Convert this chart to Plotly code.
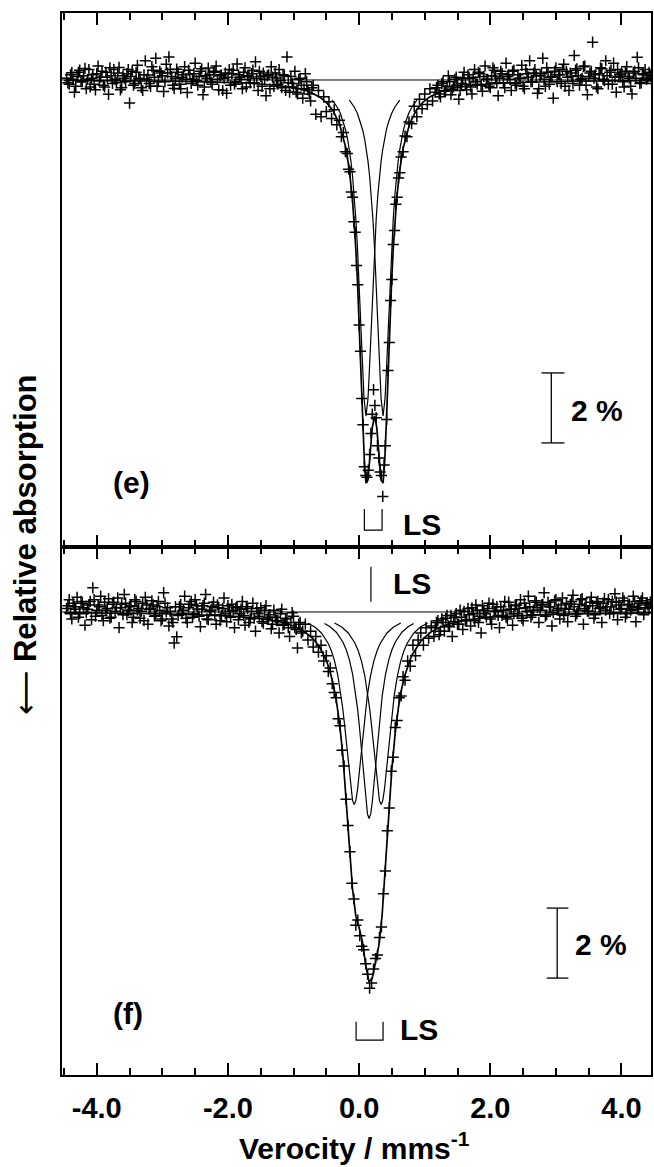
import plotly.graph_objects as go

# ---------------- data ----------------
# velocity axis tick labels
tick_vals = [-4.0, -2.0, 0.0, 2.0, 4.0]
tick_text = ["-4.0", "-2.0", "0.0", "2.0", "4.0"]

# ---- panel (e): measured points (velocity mm/s, relative absorption %) ----
x_e_left = [-4.46,-4.42,-4.38,-4.34,-4.30,-4.26,-4.22,-4.18,-4.14,-4.10,
            -4.06,-4.02,-3.98,-3.94,-3.90,-3.86,-3.82,-3.78,-3.74,-3.70,
            -3.66,-3.62,-3.58,-3.54,-3.50,-3.46,-3.42,-3.38,-3.34,-3.30,
            -3.26,-3.22,-3.18,-3.14,-3.10,-3.06,-3.02,-2.98,-2.94,-2.90,
            -2.86,-2.82,-2.78,-2.74,-2.70,-2.66,-2.62,-2.58,-2.54,-2.50,
            -2.46,-2.42,-2.38,-2.34,-2.30,-2.26,-2.22,-2.18,-2.14,-2.10,
            -2.06,-2.02,-1.98,-1.94,-1.90,-1.86,-1.82,-1.78,-1.74,-1.70,
            -1.66,-1.62,-1.58,-1.54,-1.50,-1.46,-1.42,-1.38,-1.34,-1.30,
            -1.26,-1.22,-1.18,-1.14,-1.10,-1.06,-1.02,-0.98,-0.94,-0.90,
            -0.86,-0.82,-0.78,-0.74,-0.70]
y_e_left = [0.05,-0.12,0.21,-0.35,0.10,0.28,-0.05,0.33,0.02,-0.20,
            0.15,-0.28,0.40,0.08,-0.15,0.22,-0.41,0.12,0.30,-0.08,
            0.36,-0.22,0.05,0.18,-0.66,0.25,-0.10,0.42,0.03,-0.30,
            0.55,0.14,-0.18,0.28,0.62,-0.05,0.20,-0.33,0.45,0.66,
            0.10,-0.24,0.31,-0.12,0.08,0.38,-0.36,0.17,0.02,0.48,
            -0.15,0.25,-0.42,0.12,0.34,-0.06,0.22,0.40,-0.28,0.15,
            0.05,-0.38,0.30,0.18,-0.12,0.46,0.08,-0.25,0.35,0.12,
            -0.08,0.28,0.52,-0.30,0.10,0.20,-0.45,0.15,0.38,-0.18,
            0.06,0.30,-0.22,0.12,0.66,-0.35,-0.10,0.25,-0.40,0.05,
            -0.52,0.18,-0.28,-0.60,-0.15]
x_e_left2 = [-4.44,-4.40,-4.36,-4.32,-4.28,-4.24,-4.20,-4.16,-4.12,-4.08,
             -4.04,-4.00,-3.96,-3.92,-3.88,-3.84,-3.80,-3.76,-3.72,-3.68,
             -3.64,-3.60,-3.56,-3.52,-3.48,-3.44,-3.40,-3.36,-3.32,-3.28,
             -3.24,-3.20,-3.16,-3.12,-3.08,-3.04,-3.00,-2.96,-2.92,-2.88,
             -2.84,-2.80,-2.76,-2.72,-2.68,-2.64,-2.60,-2.56,-2.52,-2.48,
             -2.44,-2.40,-2.36,-2.32,-2.28,-2.24,-2.20,-2.16,-2.12,-2.08,
             -2.04,-2.00,-1.96,-1.92,-1.88,-1.84,-1.80,-1.76,-1.72,-1.68,
             -1.64,-1.60,-1.56,-1.52,-1.48,-1.44,-1.40,-1.36,-1.32,-1.28,
             -1.24,-1.20,-1.16,-1.12,-1.08,-1.04,-1.00,-0.96,-0.92,-0.88,
             -0.84,-0.80,-0.76,-0.72]
y_e_left2 = [-0.08,0.15,0.02,-0.18,0.22,-0.05,0.12,-0.25,0.30,0.05,
             -0.12,0.18,-0.02,0.25,-0.20,0.08,0.35,-0.10,0.02,0.20,
             -0.28,0.12,-0.05,0.30,0.10,-0.15,0.22,0.05,-0.22,0.15,
             0.02,-0.10,0.38,0.08,-0.18,0.25,0.12,-0.05,0.20,0.30,
             -0.15,0.05,0.22,-0.25,0.15,0.02,0.28,-0.10,0.18,-0.02,
             0.10,0.32,-0.20,0.05,0.15,-0.12,0.25,0.02,0.12,-0.30,
             0.20,0.08,-0.15,0.28,-0.05,0.15,0.02,0.22,-0.20,0.10,
             0.18,-0.08,0.05,0.25,-0.18,0.02,0.12,-0.25,0.08,0.20,
             -0.12,-0.02,0.15,-0.30,-0.08,0.10,-0.20,-0.35,0.02,-0.15,
             -0.25,-0.05,-0.40,-0.22]
x_e_mid = [-0.66,-0.62,-0.58,-0.54,-0.50,-0.46,-0.42,-0.38,-0.34,-0.30,
           -0.27,-0.24,-0.21,-0.18,-0.16,-0.14,-0.12,-0.10,-0.08,-0.06,
           -0.04,-0.02,0.00,0.02,0.04,0.06,0.08,0.10,0.12,0.14,
           0.16,0.18,0.20,0.22,0.24,0.26,0.28,0.30,0.32,0.34,
           0.36,0.38,0.40,0.42,0.44,0.46,0.48,0.50,0.52,0.54,
           0.56,0.58,0.60,0.62,0.64,0.67,0.70,0.73,0.76,0.80,
           0.84,0.88,0.92,0.96,1.00,1.04,1.08,1.12]
y_e_mid = [-0.98,-0.30,-1.05,-0.48,-0.90,-0.62,-1.10,-0.85,-1.28,-1.15,
           -1.62,-1.50,-2.05,-2.10,-2.55,-2.62,-3.20,-3.35,-4.05,-4.35,
           -5.30,-5.85,-7.00,-7.75,-9.10,-9.85,-11.05,-11.30,-11.35,-11.15,
           -10.70,-10.10,-9.55,-8.85,-9.30,-9.65,-10.45,-10.80,-11.20,-11.30,
           -11.90,-11.00,-10.45,-9.70,-8.30,-7.50,-6.30,-5.70,-4.70,-4.30,
           -3.55,-3.35,-2.80,-2.65,-2.20,-2.05,-1.60,-1.62,-1.20,-1.25,
           -0.75,-1.05,-0.55,-0.82,-0.40,-0.70,-0.25,-0.60]
x_e_right = [1.16,1.20,1.24,1.28,1.32,1.36,1.40,1.44,1.48,1.52,
             1.56,1.60,1.64,1.68,1.72,1.76,1.80,1.84,1.88,1.92,
             1.96,2.00,2.04,2.08,2.12,2.16,2.20,2.24,2.28,2.32,
             2.36,2.40,2.44,2.48,2.52,2.56,2.60,2.64,2.68,2.72,
             2.76,2.80,2.84,2.88,2.92,2.96,3.00,3.04,3.08,3.12,
             3.16,3.20,3.24,3.28,3.32,3.36,3.40,3.44,3.48,3.52,
             3.56,3.60,3.64,3.68,3.72,3.76,3.80,3.84,3.88,3.92,
             3.96,4.00,4.04,4.08,4.12,4.16,4.20,4.24,4.28,4.32,
             4.36,4.40,4.44]
y_e_right = [-0.35,-0.15,-0.48,-0.05,-0.30,0.12,-0.42,-0.20,0.08,-0.55,
             -0.10,0.22,-0.28,0.05,-0.40,0.30,-0.12,0.18,-0.32,0.40,
             0.02,-0.22,0.35,0.10,-0.45,0.25,-0.08,0.48,0.15,-0.30,
             0.28,-0.15,0.05,0.42,-0.25,0.18,0.55,-0.05,0.30,-0.38,
             0.12,0.62,-0.18,0.22,0.08,-0.52,0.35,0.15,-0.10,0.45,
             0.25,-0.30,0.10,0.70,0.32,-0.15,0.05,0.40,-0.42,0.20,
             1.08,0.15,-0.25,0.35,0.02,0.55,-0.12,0.28,0.48,-0.35,
             0.10,0.20,-0.20,0.38,0.05,-0.40,0.25,0.65,-0.10,0.18,
             0.30,0.05,0.12]
x_e_right2 = [1.18,1.22,1.26,1.30,1.34,1.38,1.42,1.46,1.50,1.54,
              1.58,1.62,1.66,1.70,1.74,1.78,1.82,1.86,1.90,1.94,
              1.98,2.02,2.06,2.10,2.14,2.18,2.22,2.26,2.30,2.34,
              2.38,2.42,2.46,2.50,2.54,2.58,2.62,2.66,2.70,2.74,
              2.78,2.82,2.86,2.90,2.94,2.98,3.02,3.06,3.10,3.14,
              3.18,3.22,3.26,3.30,3.34,3.38,3.42,3.46,3.50,3.54,
              3.58,3.62,3.66,3.70,3.74,3.78,3.82,3.86,3.90,3.94,
              3.98,4.02,4.06,4.10,4.14,4.18,4.22,4.26,4.30,4.34,
              4.38,4.42,4.46]
y_e_right2 = [-0.22,-0.40,-0.10,-0.32,-0.18,-0.05,-0.28,0.02,-0.15,-0.30,
              0.05,-0.12,0.15,-0.20,0.08,-0.05,0.22,-0.15,0.10,0.02,
              -0.18,0.12,0.28,-0.08,0.05,0.18,-0.22,0.10,0.02,0.25,
              -0.10,0.15,0.05,-0.18,0.30,0.08,-0.05,0.20,0.12,-0.25,
              0.18,0.02,0.35,-0.12,0.10,0.25,-0.05,0.15,0.30,-0.18,
              0.08,0.20,-0.10,0.28,0.12,0.02,0.38,-0.15,0.10,0.25,
              0.05,-0.20,0.18,0.32,-0.02,0.12,0.22,-0.12,0.08,0.30,
              0.15,-0.05,0.25,0.10,-0.18,0.20,0.05,0.35,-0.08,0.15,
              0.02,0.22,-0.10]

# ---- panel (e): fitted curves ----
fit_e_x = [-4.5,-2.765,-1.765,-1.265,-0.965,-0.765,-0.6,-0.5,-0.4,-0.3,
           -0.2,-0.15,-0.1,-0.075,-0.05,-0.025,0.0,0.025,0.055,0.08,
           0.105,0.135,0.165,0.2,0.235,0.27,0.305,0.335,0.365,0.39,
           0.415,0.445,0.47,0.495,0.52,0.545,0.57,0.62,0.67,0.77,
           0.87,0.97,1.07,1.235,1.435,1.735,2.235,3.235,4.5]
fit_e_y = [-0.015,-0.036,-0.08,-0.15,-0.23,-0.33,-0.49,-0.64,-0.87,-1.25,
           -1.96,-2.56,-3.45,-4.06,-4.83,-5.76,-6.89,-8.18,-9.80,-10.91,
           -11.52,-11.43,-10.76,-9.94,-9.6,-9.94,-10.76,-11.43,-11.52,-10.91,
           -9.80,-8.18,-6.89,-5.76,-4.83,-4.06,-3.45,-2.56,-1.96,-1.25,
           -0.87,-0.64,-0.49,-0.33,-0.23,-0.15,-0.08,-0.036,-0.018]
ls_e1_x = [-0.41,-0.335,-0.285,-0.235,-0.205,-0.175,-0.15,-0.125,-0.1,-0.075,
           -0.05,-0.025,0.0,0.025,0.055,0.075,0.105,0.135,0.155,0.185,
           0.21,0.235,0.26,0.285,0.31,0.335,0.36,0.385,0.415,0.445,
           0.495,0.545,0.62]
ls_e2_x = [-0.15,-0.075,-0.025,0.025,0.055,0.085,0.11,0.135,0.16,0.185,
           0.21,0.235,0.26,0.285,0.315,0.335,0.365,0.395,0.415,0.445,
           0.47,0.495,0.52,0.545,0.57,0.595,0.62,0.645,0.675,0.705,
           0.755,0.805,0.88]
ls_e_y = [-0.575,-0.77,-0.96,-1.22,-1.435,-1.70,-1.98,-2.32,-2.75,-3.29,
          -3.97,-4.8,-5.81,-6.96,-8.36,-9.11,-9.6,-9.11,-8.36,-6.96,
          -5.81,-4.8,-3.97,-3.29,-2.75,-2.32,-1.98,-1.70,-1.435,-1.22,
          -0.96,-0.77,-0.575]

# ---- panel (f): measured points ----
x_f_left = x_e_left[:91]
y_f_left = [0.10,0.35,-0.20,0.15,0.42,-0.05,0.25,-0.38,0.08,0.30,
            0.69,-0.12,0.20,0.45,-0.25,0.05,0.38,-0.15,0.28,0.12,
            -0.45,0.22,0.50,-0.08,0.15,-0.30,0.35,0.05,-0.18,0.25,
            0.42,-0.35,0.10,0.20,-0.10,0.30,-0.25,0.55,0.00,-0.40,
            -0.20,-0.89,-0.71,0.15,-0.05,0.45,-0.30,0.22,-0.15,0.35,
            0.08,-0.42,0.18,0.50,-0.22,0.05,0.28,-0.35,0.12,-0.10,
            0.40,-0.28,0.02,0.22,-0.45,0.15,-0.05,0.30,-0.38,0.10,
            -0.20,0.25,-0.55,-0.05,0.12,-0.32,0.18,-0.15,-0.48,0.05,
            -0.25,-0.60,0.08,-0.35,-0.18,-0.70,-0.02,-0.45,-1.03,-0.30,
            -0.55]
x_f_left2 = x_e_left2[:90]
y_f_left2 = [0.18,-0.05,0.25,0.08,-0.15,0.30,0.12,-0.02,0.20,-0.22,
             0.35,0.05,0.15,-0.10,0.28,0.10,-0.18,0.22,0.02,0.40,
             0.12,-0.08,0.25,0.05,0.18,-0.15,0.30,0.10,0.02,-0.25,
             0.20,0.08,0.32,-0.12,0.15,0.05,-0.20,0.25,0.12,0.02,
             -0.30,0.15,-0.10,0.22,0.05,-0.18,0.12,0.30,-0.05,0.18,
             -0.12,0.08,0.25,-0.20,0.02,0.15,-0.08,0.20,-0.25,0.10,
             -0.05,0.18,-0.15,0.05,0.12,-0.22,0.08,-0.10,0.15,-0.30,
             0.02,-0.18,0.10,-0.12,-0.28,0.05,-0.20,-0.08,-0.35,-0.15,
             -0.25,-0.05,-0.38,-0.20,-0.45,-0.30,-0.12,-0.50,-0.35,-0.60]
x_f_mid = [-0.82,-0.78,-0.74,-0.70,-0.66,-0.62,-0.58,-0.54,-0.50,-0.47,
           -0.44,-0.41,-0.38,-0.35,-0.32,-0.29,-0.26,-0.23,-0.20,-0.17,
           -0.14,-0.11,-0.08,-0.05,-0.02,0.01,0.04,0.07,0.10,0.13,
           0.16,0.19,0.22,0.25,0.28,0.31,0.34,0.37,0.40,0.43,
           0.46,0.49,0.52,0.55,0.58,0.61,0.64,0.67,0.70,0.74,
           0.78,0.82,0.86,0.90,0.94,0.98,1.02,1.06,1.10,1.14]
y_f_mid = [-0.35,-0.80,-0.55,-1.00,-0.70,-1.15,-0.95,-1.40,-1.25,-1.70,
           -1.60,-2.05,-2.30,-2.45,-3.05,-3.25,-3.95,-4.40,-5.35,-6.10,
           -6.85,-7.75,-8.20,-8.95,-8.80,-9.25,-9.55,-9.65,-10.05,-10.35,
           -10.75,-10.60,-10.20,-9.90,-9.80,-9.30,-9.00,-8.05,-7.40,-6.25,
           -5.60,-4.55,-4.15,-3.30,-3.10,-2.45,-2.40,-1.85,-1.95,-1.40,
           -1.55,-0.95,-1.25,-0.80,-0.60,-0.95,-0.45,-0.75,-0.40,-0.70]
x_f_right = x_e_right2
y_f_right = [-0.30,-0.65,-0.20,-0.55,-0.10,-0.42,-0.70,-0.15,-0.35,0.05,
             -0.50,-0.25,0.10,-0.40,-0.05,0.20,-0.30,-0.60,0.05,-0.15,
             0.25,-0.35,0.02,0.15,-0.45,-0.10,0.30,-0.20,0.08,-0.38,
             0.18,-0.05,0.35,-0.25,0.12,0.45,-0.15,0.05,0.28,-0.30,
             0.20,0.55,-0.08,0.15,-0.40,0.32,0.05,-0.20,0.40,0.10,
             -0.28,0.22,0.48,-0.12,0.05,0.35,-0.35,0.18,0.02,0.42,
             -0.18,0.25,0.10,-0.30,0.38,0.15,-0.05,0.30,0.52,-0.22,
             0.08,0.40,-0.15,0.20,0.05,0.45,-0.28,0.12,0.32,-0.08,
             0.25,0.10,0.35]
x_f_right2 = x_e_right
y_f_right2 = [-0.45,-0.25,-0.55,-0.30,-0.18,-0.40,-0.10,-0.28,-0.05,-0.35,
              -0.15,0.02,-0.22,-0.08,0.12,-0.25,0.05,-0.12,0.18,-0.05,
              0.10,-0.20,0.22,0.02,-0.10,0.15,0.05,-0.15,0.28,0.08,
              -0.05,0.20,0.10,-0.18,0.25,0.02,0.15,-0.08,0.32,0.12,
              0.05,0.22,-0.12,0.28,0.15,-0.02,0.35,0.10,0.20,-0.10,
              0.25,0.08,0.30,0.15,-0.05,0.22,0.38,0.10,0.02,0.28,
              0.18,-0.08,0.30,0.12,0.25,0.05,0.35,0.15,-0.02,0.28,
              0.20,0.10,0.32,-0.05,0.22,0.15,0.30,0.08,0.25,0.40,
              0.12,0.20,0.28]

# ---- panel (f): fitted curves ----
fit_f_x = [-4.5,-3.0,-2.0,-1.5,-1.2,-1.0,-0.85,-0.7,-0.6,-0.5,
           -0.45,-0.4,-0.35,-0.3,-0.25,-0.2,-0.15,-0.1,-0.05,0.0,
           0.05,0.1,0.15,0.2,0.25,0.3,0.35,0.4,0.45,0.5,
           0.55,0.6,0.65,0.7,0.8,0.95,1.1,1.3,1.6,2.0,
           3.0,4.5]
fit_f_y = [-0.023,-0.051,-0.110,-0.19,-0.287,-0.40,-0.54,-0.77,-1.01,-1.38,
           -1.66,-2.02,-2.50,-3.16,-4.05,-5.24,-6.64,-7.93,-8.69,-9.02,
           -9.42,-10.08,-10.57,-10.47,-10.05,-9.54,-8.68,-7.30,-5.78,-4.46,
           -3.46,-2.72,-2.18,-1.79,-1.25,-0.81,-0.567,-0.38,-0.238,-0.146,
           -0.061,-0.026]
ls_fa_x = [-0.785,-0.675,-0.575,-0.475,-0.425,-0.375,-0.325,-0.275,-0.25,-0.225,
           -0.2,-0.175,-0.15,-0.125,-0.1,-0.075,-0.05,-0.025,0.0,0.025,
           0.05,0.075,0.1,0.125,0.175,0.225,0.275,0.325,0.425,0.525,0.635]
ls_fb_x = [-0.375,-0.265,-0.165,-0.065,-0.015,0.035,0.085,0.135,0.16,0.185,
           0.21,0.235,0.26,0.285,0.31,0.335,0.36,0.385,0.41,0.435,
           0.46,0.485,0.51,0.535,0.585,0.635,0.685,0.735,0.835,0.935,1.045]
ls_fd_y = [-0.315,-0.431,-0.600,-0.884,-1.10,-1.396,-1.809,-2.385,-2.75,-3.17,
           -3.64,-4.146,-4.65,-5.085,-5.39,-5.5,-5.39,-5.085,-4.65,-4.146,
           -3.64,-3.17,-2.75,-2.385,-1.809,-1.396,-1.10,-0.884,-0.600,-0.431,-0.315]
ls_fs_x = [-0.528,-0.448,-0.348,-0.248,-0.198,-0.148,-0.098,-0.048,-0.023,0.002,
           0.027,0.052,0.077,0.102,0.127,0.152,0.177,0.202,0.227,0.252,
           0.277,0.302,0.327,0.352,0.402,0.452,0.502,0.552,0.652,0.752,0.832]
ls_fs_y = [-0.328,-0.415,-0.579,-0.858,-1.073,-1.37,-1.79,-2.39,-2.777,-3.23,
           -3.75,-4.315,-4.89,-5.40,-5.77,-5.9,-5.77,-5.40,-4.89,-4.315,
           -3.75,-3.23,-2.777,-2.39,-1.79,-1.37,-1.073,-0.858,-0.579,-0.415,-0.328]

baseline_x = [-4.53, 4.45]
baseline_y = [0.0, 0.0]

# ---------------- layout constants ----------------
X_RANGE = [-4.53, 4.45]
Y_RANGE_E = [-13.343, 1.914]
Y_RANGE_F = [-13.229, 1.857]
SPLIT = 0.4972
FONT = "Liberation Sans"
BLACK = "black"

fig = go.Figure()

def add_panel(xa, ya, px, py, fx, fy, comps):
    fig.add_trace(go.Scatter(x=baseline_x, y=baseline_y, mode="lines",
                             line=dict(color=BLACK, width=1), xaxis=xa, yaxis=ya,
                             hoverinfo="skip"))
    for cx, cy in comps:
        fig.add_trace(go.Scatter(x=cx, y=cy, mode="lines",
                                 line=dict(color=BLACK, width=1.2), xaxis=xa, yaxis=ya))
    fig.add_trace(go.Scatter(x=px, y=py, mode="markers",
                             marker=dict(symbol="cross-thin", size=8, color=BLACK,
                                         line=dict(color=BLACK, width=1.5)),
                             xaxis=xa, yaxis=ya))
    fig.add_trace(go.Scatter(x=fx, y=fy, mode="lines",
                             line=dict(color=BLACK, width=1.7), xaxis=xa, yaxis=ya))

add_panel("x", "y",
          x_e_left + x_e_left2 + x_e_mid + x_e_right + x_e_right2,
          y_e_left + y_e_left2 + y_e_mid + y_e_right + y_e_right2,
          fit_e_x, fit_e_y, [(ls_e1_x, ls_e_y), (ls_e2_x, ls_e_y)])
add_panel("x2", "y2",
          x_f_left + x_f_left2 + x_f_mid + x_f_right + x_f_right2,
          y_f_left + y_f_left2 + y_f_mid + y_f_right + y_f_right2,
          fit_f_x, fit_f_y, [(ls_fa_x, ls_fd_y), (ls_fb_x, ls_fd_y), (ls_fs_x, ls_fs_y)])

xaxis_common = dict(range=X_RANGE, showline=True, linecolor=BLACK, linewidth=2,
                    mirror="ticks", ticks="inside", ticklen=12, tickwidth=2,
                    tickcolor=BLACK, tickvals=tick_vals, ticktext=tick_text,
                    minor=dict(dtick=0.5, tick0=0, ticks="inside", ticklen=7,
                               tickwidth=1.5, tickcolor=BLACK),
                    showgrid=False, zeroline=False)
yaxis_common = dict(showline=True, linecolor=BLACK, linewidth=2, mirror=True,
                    ticks="", showticklabels=False, showgrid=False, zeroline=False)

fig.update_layout(
    width=654, height=1167,
    margin=dict(l=62, r=1, t=13, b=92),
    paper_bgcolor="white", plot_bgcolor="white",
    showlegend=False,
    xaxis=dict(xaxis_common, anchor="y", domain=[0, 1], showticklabels=False),
    xaxis2=dict(xaxis_common, anchor="y2", domain=[0, 1], showticklabels=True,
                tickfont=dict(family=FONT, size=29, color=BLACK, weight="bold"),
                ticklabelstandoff=6),
    yaxis=dict(yaxis_common, anchor="x", domain=[SPLIT, 1], range=Y_RANGE_E),
    yaxis2=dict(yaxis_common, anchor="x2", domain=[0, SPLIT], range=Y_RANGE_F),
)

# ---- decorations: line markers and 2 % scale bars ----
bracket_e = dict(x=[0.08, 0.35], y=[-12.26, -12.86])
bracket_f = dict(x=[-0.046, 0.365], y=[-11.71, -12.23])
singlet_f = dict(x=0.18, y=[0.29, 1.29])
bar_e = dict(x=2.93, cap=[2.78, 3.13], y=[-8.37, -10.37])
bar_f = dict(x=3.02, cap=[2.86, 3.19], y=[-8.46, -10.46])

def bracket(b, xr, yr):
    (x0, x1), (ytop, ybot) = b["x"], b["y"]
    fig.add_shape(type="path", xref=xr, yref=yr,
                  path=f"M {x0},{ytop} L {x0},{ybot} L {x1},{ybot} L {x1},{ytop}",
                  line=dict(color=BLACK, width=1.2))

def scalebar(b, xr, yr):
    y0, y1 = b["y"]
    fig.add_shape(type="line", xref=xr, yref=yr, x0=b["x"], x1=b["x"], y0=y0, y1=y1,
                  line=dict(color=BLACK, width=1.3))
    for yy in (y0, y1):
        fig.add_shape(type="line", xref=xr, yref=yr, x0=b["cap"][0], x1=b["cap"][1],
                      y0=yy, y1=yy, line=dict(color=BLACK, width=1.3))

bracket(bracket_e, "x", "y")
bracket(bracket_f, "x2", "y2")
fig.add_shape(type="line", xref="x2", yref="y2", x0=singlet_f["x"], x1=singlet_f["x"],
              y0=singlet_f["y"][0], y1=singlet_f["y"][1], line=dict(color=BLACK, width=1.2))
scalebar(bar_e, "x", "y")
scalebar(bar_f, "x2", "y2")

def label(text, x, y, xr, yr, size=30, **kw):
    fig.add_annotation(text=text, x=x, y=y, xref=xr, yref=yr, showarrow=False,
                       font=dict(family=FONT, size=size, color=BLACK, weight="bold"),
                       xanchor="center", yanchor="middle", **kw)

label("(e)", -3.47, -11.49, "x", "y")
label("(f)", -3.53, -11.46, "x2", "y2")
label("LS", 0.96, -12.69, "x", "y")
label("LS", 0.805, 0.8, "x2", "y2")
label("LS", 0.91, -11.94, "x2", "y2")
label("2 %", 3.62, -9.43, "x", "y")
label("2 %", 3.68, -9.51, "x2", "y2")
label("<span style='font-family:DejaVu Sans;font-weight:normal'>⟵</span> Relative absorption",
      -0.0626, 0.499, "paper", "paper", size=31, textangle=-90)
label("Verocity / mms<sup>-1</sup>", 0.496, -0.0668, "paper", "paper", size=30)

fig.write_html("out.html",
               config={"displayModeBar": False},
               post_script="document.body.style.margin='0px';"
                           "document.body.style.overflow='hidden';")
